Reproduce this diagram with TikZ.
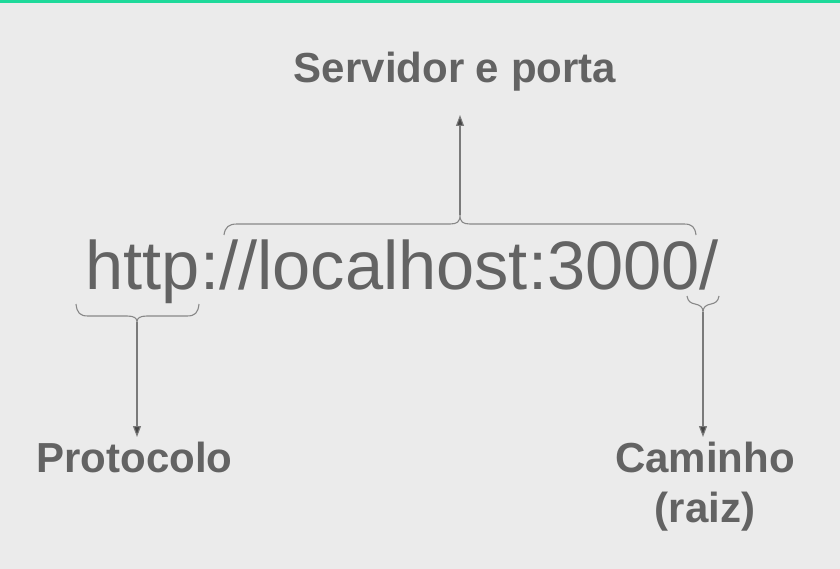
\documentclass[tikz,border=0pt]{standalone}
\usepackage{fontspec}
\setmainfont{Liberation Sans}
\usetikzlibrary{arrows.meta}
\definecolor{bg}{HTML}{EBEBEB}
\definecolor{txt}{HTML}{636363}
\definecolor{brc}{HTML}{888888}
\definecolor{bar}{HTML}{1ED99A}
\tikzset{
  url/.style={font=\fontsize{68.6}{80}\selectfont, text=txt, inner sep=0pt, anchor=base west},
  lbl/.style={font=\bfseries\fontsize{42}{50}\selectfont, text=txt, inner sep=0pt, anchor=base},
  bracel/.style={draw=brc, line width=1.1pt},
  arr/.style={draw=brc!90!black, line width=1.1pt, -{Triangle[length=11pt,width=8pt,fill=txt!70!black]}}
}
\begin{document}
\begin{tikzpicture}[x=1pt,y=-1pt]
\useasboundingbox (0,0) rectangle (840,569);
\fill[bg] (0,0) rectangle (840,569);
\fill[bar] (0,0) rectangle (840,3);
% main text
\node[url] (urltxt) at (85.5,289) {http://localhost:3000/};
% labels
\node[lbl] (srv) at (455,83) {Servidor e porta};
\node[lbl] (prot) at (134.5,472) {Protocolo};
\node[lbl] (cam) at (705,472) {Caminho};
\node[lbl] (raiz) at (705,522) {(raiz)};
% brace tips
\coordinate (ptip) at (137,322);
\coordinate (stip) at (460,215);
\coordinate (ctip) at (703,312);
\coordinate (parr) at (137,437);
\coordinate (sarr) at (460,115);
\coordinate (carr) at (703,437);
% protocol brace
\draw[bracel] (76,304) .. controls (77,313) and (80,316) .. (88,316)
  -- (127,316) .. controls (134,316) and (137,318) .. (ptip)
  .. controls (137,318) and (140,316) .. (147,316)
  -- (187,316) .. controls (195,316) and (198,313) .. (199,304);
% server brace
\draw[bracel] (224,235) .. controls (225,227) and (229,224) .. (237,224)
  -- (450,224) .. controls (457,224) and (460,222) .. (stip)
  .. controls (460,222) and (463,224) .. (470,224)
  -- (684,224) .. controls (692,224) and (695,227) .. (696,235);
% path brace
\draw[bracel] (687,296) .. controls (688,302) and (691,303) .. (695,304)
  .. controls (700,305) and (703,307) .. (ctip)
  .. controls (703,307) and (706,305) .. (711,304)
  .. controls (715,303) and (718,302) .. (719,296);
% arrows
\draw[arr] (ptip) -- (parr);
\draw[arr] (stip) -- (sarr);
\draw[arr] (ctip) -- (carr);
\end{tikzpicture}
\end{document}
